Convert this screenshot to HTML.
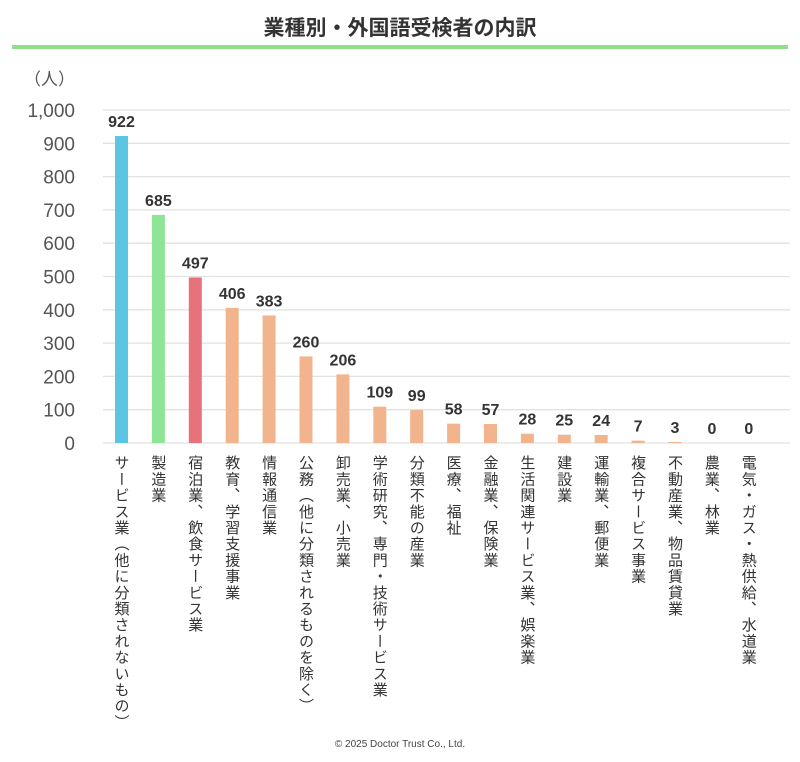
<!DOCTYPE html><html><head><meta charset="utf-8"><style>
body{margin:0;width:800px;height:762px;background:#fff;font-family:"Liberation Sans","Noto Sans CJK JP",sans-serif;position:relative;overflow:hidden}
.t{position:absolute;top:12px;left:0;width:800px;text-align:center;font-size:21px;font-weight:bold;color:#333}
.ln{position:absolute;top:45px;left:12px;width:776px;height:4px;background:#8ee08e}
.lab{position:absolute;top:455px;writing-mode:vertical-rl;font-size:15px;color:#333;line-height:17px;letter-spacing:1.2px}
.c{position:absolute;bottom:12px;width:800px;text-align:center;font-size:10px;color:#444}
</style></head><body>
<div class="t">業種別・外国語受検者の内訳</div><div class="ln"></div>
<svg width="800" height="762" style="position:absolute;left:0;top:0" font-family="Liberation Sans, Noto Sans CJK JP, sans-serif">
<text x="75" y="85" font-size="17" fill="#555" text-anchor="end">（人）</text>
<g id="g"></g>
</svg>
<div id="labs"></div>
<div class="c">©  2025 Doctor Trust Co., Ltd.</div>
<script>
var v=[922,685,497,406,383,260,206,109,99,58,57,28,25,24,7,3,0,0];
var n=["サービス業（他に分類されないもの）","製造業","宿泊業、飲食サービス業","教育、学習支援事業","情報通信業","公務（他に分類されるものを除く）","卸売業、小売業","学術研究、専門・技術サービス業","分類不能の産業","医療、福祉","金融業、保険業","生活関連サービス業、娯楽業","建設業","運輸業、郵便業","複合サービス事業","不動産業、物品賃貸業","農業、林業","電気・ガス・熱供給、水道業"];
var s="",b=443,k=0.333;
for(var i=0;i<=10;i++){var y=b-i*33.3;s+='<line x1="103" x2="790" y1="'+y+'" y2="'+y+'" stroke="#e2e2e2" stroke-width="1.3"/>';
s+='<text x="75" y="'+(y+7)+'" font-size="19" fill="#555" text-anchor="end">'+(i==10?"1,000":i*100)+'</text>';}
var h="";
for(var i=0;i<18;i++){var cx=121.5+i*36.9,hh=v[i]*k,col=i==0?"#5bc5e3":i==1?"#8ee595":i==2?"#e8727a":"#f2b48c";
s+='<rect x="'+(cx-6.5)+'" y="'+(b-hh)+'" width="13" height="'+hh+'" fill="'+col+'"/>';
s+='<text x="'+cx+'" y="'+(b-hh-9)+'" font-size="16" font-weight="bold" fill="#333" text-anchor="middle">'+v[i]+'</text>';
h+='<div class="lab" style="left:'+(cx-9)+'px">'+n[i]+'</div>';}
document.getElementById("g").innerHTML=s;document.getElementById("labs").innerHTML=h;
</script>
</body></html>
